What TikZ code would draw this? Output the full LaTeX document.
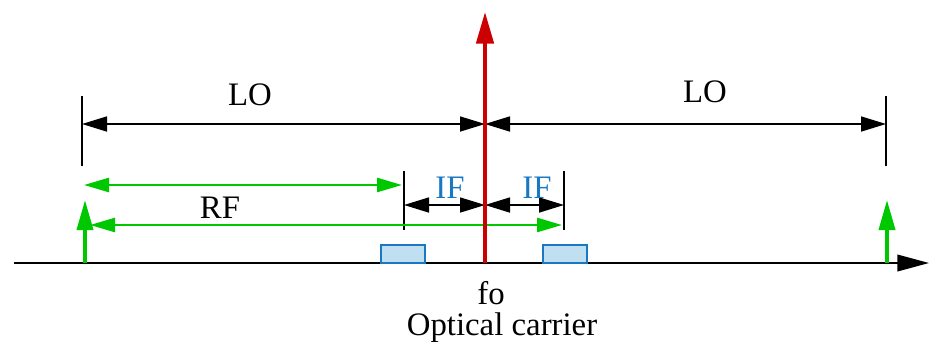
\documentclass[tikz,border=0pt]{standalone}
\usepackage{fontspec}
\setmainfont{Liberation Serif}
\usetikzlibrary{arrows.meta}
\definecolor{gr}{HTML}{00C800}
\definecolor{rd}{HTML}{CC0000}
\definecolor{bl}{HTML}{1A78C2}
\definecolor{blf}{HTML}{C0DFF0}
\begin{document}
\begin{tikzpicture}[x=0.03cm,y=-0.03cm,
  lbl/.style={font=\fontsize{28}{33}\selectfont, inner sep=0pt, anchor=base},
  dim/.style={line width=1.4pt, {Triangle[length=0.75cm,width=0.45cm]}-{Triangle[length=0.75cm,width=0.45cm]}},
  gdim/.style={gr, line width=2.2pt, {Triangle[length=0.75cm,width=0.42cm]}-{Triangle[length=0.75cm,width=0.42cm]}},
  gup/.style={gr, line width=3.2pt, -{Triangle[length=0.9cm,width=0.48cm]}},
  bar/.style={line width=1.4pt},
  box/.style={draw=bl, fill=blf, line width=1.2pt}]
\useasboundingbox (0,0) rectangle (932,350);
% coordinates
\coordinate (axL) at (14,263);
\coordinate (axR) at (929,263);
\coordinate (fo) at (485,263);
\coordinate (foTop) at (485,12);
\coordinate (loL) at (82,124);
\coordinate (loM) at (485,124);
\coordinate (loR) at (886,124);
\coordinate (barLt) at (82,96);
\coordinate (barLb) at (82,166);
\coordinate (barRt) at (886,96);
\coordinate (barRb) at (886,166);
\coordinate (if1t) at (404,171);
\coordinate (if1b) at (404,230);
\coordinate (if2t) at (564,171);
\coordinate (if2b) at (564,230);
\coordinate (ifL) at (404,205);
\coordinate (ifM) at (485,205);
\coordinate (ifR) at (564,205);
\coordinate (rf1L) at (84,185);
\coordinate (rf1R) at (402,185);
\coordinate (rf2L) at (90,225);
\coordinate (rf2R) at (562,225);
\coordinate (gLb) at (85,263);
\coordinate (gLt) at (85,200);
\coordinate (gRb) at (887,263);
\coordinate (gRt) at (887,200);
% axis
\draw[line width=1.4pt, -{Triangle[length=0.95cm,width=0.5cm]}] (axL) -- (axR);
% boxes
\draw[box] (381,245) rectangle (425,263);
\draw[box] (543,245) rectangle (587,263);
% bars
\draw[bar] (barLt) -- (barLb);
\draw[bar] (barRt) -- (barRb);
\draw[bar] (if1t) -- (if1b);
\draw[bar] (if2t) -- (if2b);
% LO
\draw[dim] (loL) -- (loM);
\draw[dim] (loM) -- (loR);
% IF
\draw[dim] (ifL) -- (ifM);
\draw[dim] (ifM) -- (ifR);
% green
\draw[gdim] (rf1L) -- (rf1R);
\draw[gdim] (rf2L) -- (rf2R);
\draw[gup] (gLb) -- (gLt);
\draw[gup] (gRb) -- (gRt);
% carrier
\draw[rd, line width=3.2pt, -{Triangle[length=0.95cm,width=0.52cm]}] (fo) -- (foTop);
% labels
\node[lbl] (tLO1) at (250,105) {LO};
\node[lbl] (tLO2) at (705,102) {LO};
\node[lbl, text=bl] (tIF1) at (450,198) {IF};
\node[lbl, text=bl] (tIF2) at (537,198) {IF};
\node[lbl] (tRF) at (220,218) {RF};
\node[lbl] (tfo) at (491,304) {fo};
\node[lbl] (tOC) at (502,335) {Optical carrier};
\end{tikzpicture}
\end{document}
